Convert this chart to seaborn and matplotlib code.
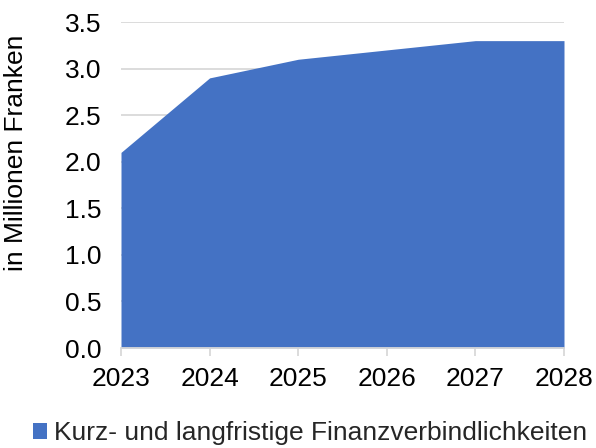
import matplotlib
matplotlib.use("Agg")
import matplotlib.pyplot as plt
import seaborn as sns
import pandas as pd
from matplotlib.patches import Patch

years = [2023, 2024, 2025, 2026, 2027, 2028]
values = [2.1, 2.9, 3.1, 3.2, 3.3, 3.3]
series_name = "Kurz- und langfristige Finanzverbindlichkeiten"
y_label = "in Millionen Franken"
y_ticks = [0.0, 0.5, 1.0, 1.5, 2.0, 2.5, 3.0, 3.5]

df = pd.DataFrame({"Jahr": years, "Wert": values})

sns.set_theme(style="white")
plt.rcParams['font.family'] = ['Liberation Sans', 'DejaVu Sans']

color = "#4472C4"
fig = plt.figure(figsize=(5.96, 4.48), dpi=100)
ax = fig.add_axes([121/596, 1-348/448, (564-121)/596, (348-22)/448])

sns.lineplot(data=df, x="Jahr", y="Wert", ax=ax, color=color, linewidth=0)
ax.fill_between(df["Jahr"], df["Wert"], 0, color=color, linewidth=0, zorder=2)

ax.set_xlim(years[0], years[-1])
ax.set_ylim(0, 3.5)
ax.set_yticks(y_ticks)
ax.set_yticklabels([f"{v:.1f}" for v in y_ticks])
ax.set_xticks(years)
ax.set_xticklabels([str(y) for y in years])

ax.grid(axis="y", color="#D9D9D9", linewidth=1.3, zorder=0)
ax.set_axisbelow(True)
for s in ["top", "right", "left"]:
    ax.spines[s].set_visible(False)
ax.spines["bottom"].set_color("#D9D9D9")
ax.spines["bottom"].set_linewidth(1.3)
ax.spines["bottom"].set_zorder(3)

ax.tick_params(axis="x", length=6, width=1.3, color="#D9D9D9", direction="out",
               labelsize=19, labelcolor="black", pad=8, bottom=True)
ax.tick_params(axis="y", length=0, labelsize=19, labelcolor="black", pad=14)

ax.set_xlabel("")
ax.set_ylabel(y_label, fontsize=19, color="black")
ax.yaxis.set_label_coords((28-121)/443, (348-153)/326)

handles = [Patch(facecolor=color, edgecolor="none")]
fig.legend(handles, [series_name], loc="center", bbox_to_anchor=(0.52, 1-433/448),
           frameon=False, fontsize=19, handlelength=0.55, handleheight=0.55,
           handletextpad=0.25, borderaxespad=0)

fig.savefig("out.png", dpi=100)
